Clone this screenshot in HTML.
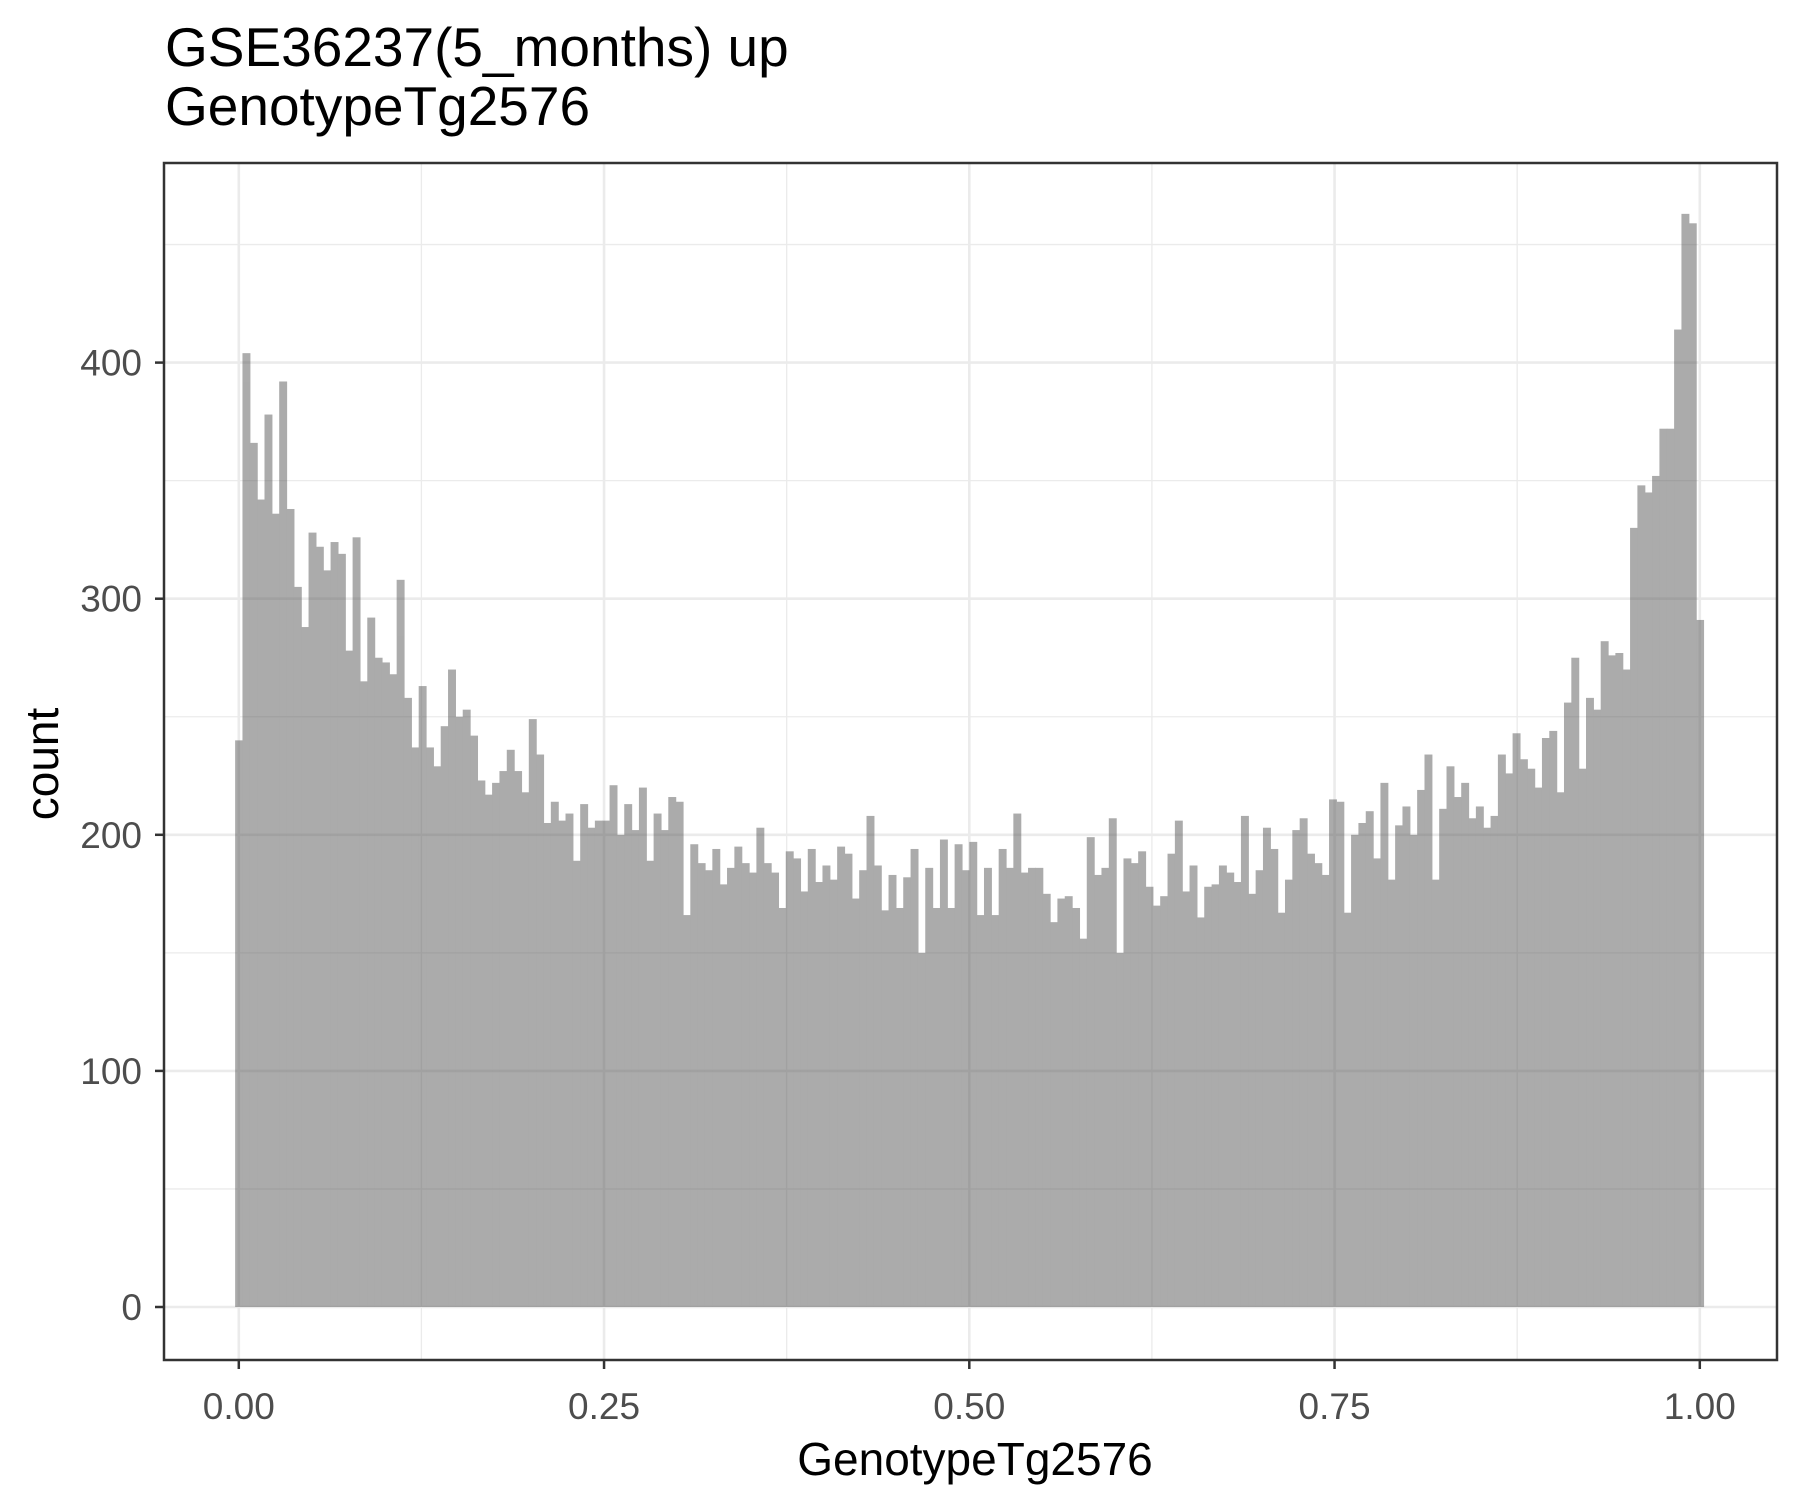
<!DOCTYPE html>
<html><head><meta charset="utf-8">
<style>
html,body{margin:0;padding:0;background:#fff;}
svg{display:block;font-family:"Liberation Sans",Arial,sans-serif;}
</style></head>
<body>
<svg id="chart" width="1800" height="1500" viewBox="0 0 1800 1500">
<text x="165" y="66" font-size="55" fill="#000">GSE36237(5_months) up</text>
<text x="165" y="125" font-size="55" fill="#000">GenotypeTg2576</text>
<text x="975" y="1475" font-size="46" fill="#000" text-anchor="middle">GenotypeTg2576</text>
<text transform="translate(58,764) rotate(-90)" font-size="46" fill="#000" text-anchor="middle">count</text>
<g id="grid"></g>
<g id="bars" opacity="0.5"></g>
<g id="axes"></g>
</svg>
<script>
const counts = [240,404,366,342,378,336,392,338,305,288,328,322,312,324,319,278,326,265,292,275,273,268,308,258,237,263,237,229,246,270,250,253,242,223,217,222,227,236,227,218,
249,234,205,214,206,209,189,213,203,206,206,221,200,213,202,220,189,209,202,216,214,166,196,188,185,194,179,186,195,188,184,203,188,184,169,193,190,176,194,180,
187,181,195,192,173,185,208,187,168,183,169,182,194,150,186,169,198,169,196,185,197,166,186,166,194,186,209,184,186,186,175,163,173,174,169,156,199,183,186,207,
150,190,188,193,178,170,174,192,206,176,187,165,178,179,187,184,180,208,175,185,203,194,167,181,202,207,192,188,183,215,214,167,200,205,210,190,222,181,204,212,
200,219,234,181,211,229,216,222,207,212,203,208,234,226,243,232,228,220,241,244,218,256,275,228,258,253,282,276,277,270,330,348,345,352,372,372,414,463,459,291];
const xTicks = [0, 0.25, 0.5, 0.75, 1];
const xTickLabels = ["0.00","0.25","0.50","0.75","1.00"];
const xMinor = [0.125, 0.375, 0.625, 0.875];
const yTicks = [0, 100, 200, 300, 400];
const yTickLabels = ["0","100","200","300","400"];
const yMinor = [50, 150, 250, 350, 450];

const P = {l:164, t:163, r:1777, b:1360};
function xs(v){ return 238.8 + 1461*v; }
function ys(v){ return 1307 - 2.361*v; }
const NS = "http://www.w3.org/2000/svg";
function mk(tag, attrs, parent){
  const e = document.createElementNS(NS, tag);
  for (const k in attrs) e.setAttribute(k, attrs[k]);
  parent.appendChild(e); return e;
}
const grid = document.getElementById('grid');
const barsG = document.getElementById('bars');
const axes = document.getElementById('axes');

mk('rect',{x:P.l,y:P.t,width:P.r-P.l,height:P.b-P.t,fill:'#fff'},grid);
yMinor.forEach(v=>{ const y=ys(v); if(y>P.t){ const l=mk('line',{x1:P.l,x2:P.r,y1:y,y2:y,stroke:'#ebebeb','stroke-width':1.3},grid);

 }});
xMinor.forEach(v=>{ const x=xs(v); const l=mk('line',{x1:x,x2:x,y1:P.t,y2:P.b,stroke:'#ebebeb','stroke-width':1.3},grid);

 });
yTicks.forEach(v=>{ const y=ys(v); const l=mk('line',{x1:P.l,x2:P.r,y1:y,y2:y,stroke:'#ebebeb','stroke-width':2.6},grid);

 });
xTicks.forEach(v=>{ const x=xs(v); const l=mk('line',{x1:x,x2:x,y1:P.t,y2:P.b,stroke:'#ebebeb','stroke-width':2.6},grid);

 });

const n = counts.length;
const bw = 1/(n-1);
counts.forEach((c,i)=>{
  const x0 = xs(i*bw - bw/2), x1 = xs(i*bw + bw/2);
  const r = mk('rect',{x:x0,y:ys(c),width:x1-x0+0.6,height:ys(0)-ys(c),fill:'#595959'},barsG);
  
  
});

const border = mk('rect',{x:P.l,y:P.t,width:P.r-P.l,height:P.b-P.t,fill:'none',stroke:'#333','stroke-width':2.5},axes);



xTicks.forEach((v,i)=>{
  const x=xs(v);
  mk('line',{x1:x,x2:x,y1:P.b,y2:P.b+9,stroke:'#333','stroke-width':2.5},axes);
  const t=mk('text',{x:x,y:1419,'font-size':37,fill:'#4d4d4d','text-anchor':'middle'},axes);
  t.textContent = xTickLabels[i];
  
  
});
yTicks.forEach((v,i)=>{
  const y=ys(v);
  mk('line',{x1:P.l-9,x2:P.l,y1:y,y2:y,stroke:'#333','stroke-width':2.5},axes);
  const t=mk('text',{x:P.l-22,y:y+13,'font-size':37,fill:'#4d4d4d','text-anchor':'end'},axes);
  t.textContent = yTickLabels[i];
  
  
});
</script>
</body></html>
